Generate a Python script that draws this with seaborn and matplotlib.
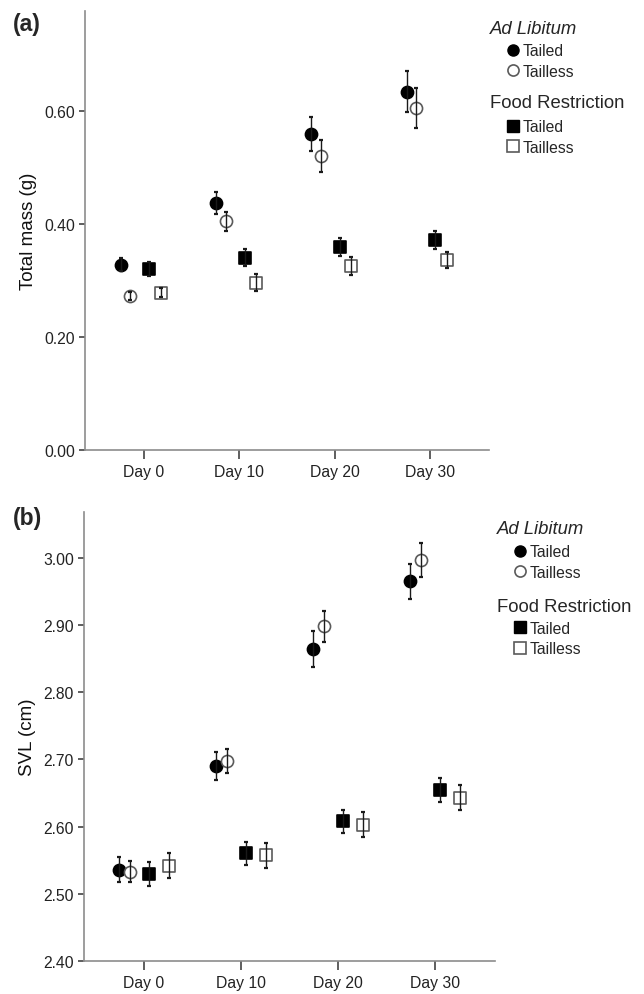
import pandas as pd
import matplotlib
matplotlib.use('Agg')
import matplotlib.pyplot as plt
from matplotlib.lines import Line2D
import seaborn as sns

days = ['Day 0', 'Day 10', 'Day 20', 'Day 30']
groups = ['AL Tailed', 'AL Tailless', 'FR Tailed', 'FR Tailless']

# (a) total mass (g), mean and error
mass_al_tailed = [0.328, 0.437, 0.559, 0.634]
mass_al_tailless = [0.272, 0.405, 0.520, 0.605]
mass_fr_tailed = [0.320, 0.340, 0.360, 0.372]
mass_fr_tailless = [0.278, 0.296, 0.325, 0.336]
mass_err_al_tailed = [0.012, 0.020, 0.030, 0.036]
mass_err_al_tailless = [0.007, 0.017, 0.028, 0.035]
mass_err_fr_tailed = [0.012, 0.015, 0.016, 0.016]
mass_err_fr_tailless = [0.008, 0.015, 0.016, 0.014]

# (b) SVL (cm), mean and error
svl_al_tailed = [2.536, 2.690, 2.864, 2.965]
svl_al_tailless = [2.533, 2.698, 2.898, 2.997]
svl_fr_tailed = [2.530, 2.560, 2.608, 2.654]
svl_fr_tailless = [2.542, 2.557, 2.603, 2.643]
svl_err_al_tailed = [0.018, 0.021, 0.027, 0.026]
svl_err_al_tailless = [0.016, 0.018, 0.023, 0.025]
svl_err_fr_tailed = [0.018, 0.017, 0.017, 0.018]
svl_err_fr_tailless = [0.018, 0.019, 0.018, 0.019]


def build(vals, errs):
    rows = []
    for g, v, e in zip(groups, vals, errs):
        for i, d in enumerate(days):
            rows.append({'day': d, 'idx': i, 'group': g, 'value': v[i], 'err': e[i]})
    return pd.DataFrame(rows)


mass_df = build([mass_al_tailed, mass_al_tailless, mass_fr_tailed, mass_fr_tailless],
                [mass_err_al_tailed, mass_err_al_tailless, mass_err_fr_tailed, mass_err_fr_tailless])
svl_df = build([svl_al_tailed, svl_al_tailless, svl_fr_tailed, svl_fr_tailless],
               [svl_err_al_tailed, svl_err_al_tailless, svl_err_fr_tailed, svl_err_fr_tailless])

sns.set_style('ticks')
plt.rcParams['font.family'] = ['Liberation Sans', 'DejaVu Sans']

OPEN = '#5a5a5a'
styles = {
    'AL Tailed': dict(marker='o', facecolor='black', edgecolor='black'),
    'AL Tailless': dict(marker='o', facecolor='white', edgecolor=OPEN),
    'FR Tailed': dict(marker='s', facecolor='black', edgecolor='black'),
    'FR Tailless': dict(marker='s', facecolor='white', edgecolor=OPEN),
}

W, H = 644, 995
fig = plt.figure(figsize=(W / 100, H / 100), dpi=100)


def fx(px):
    return px / W


def fy(py):
    return 1 - py / H


def panel(rect, df, offsets, ylim, yticks, ylabel, tag, tag_y, leg_x, leg_rows):
    ax = fig.add_axes(rect)
    for g, off in zip(groups, offsets):
        sub = df[df.group == g].copy()
        sub['x'] = sub['idx'] + off
        st = styles[g]
        sns.scatterplot(data=sub, x='x', y='value', marker=st['marker'], s=76,
                        color=st['facecolor'], edgecolor=st['edgecolor'],
                        linewidth=1.2, ax=ax, zorder=2, legend=False)
        ax.errorbar(sub['x'], sub['value'], yerr=sub['err'], fmt='none',
                    ecolor='#1a1a1a', elinewidth=1.0, capsize=1.2, capthick=1.6,
                    zorder=3)
    ax.set_xlim(-0.62, 3.62)
    ax.set_ylim(*ylim)
    ax.set_xticks(range(len(days)))
    ax.set_xticklabels(days)
    ax.set_yticks(yticks)
    ax.set_yticklabels([f'{t:.2f}' for t in yticks])
    ax.set_xlabel('')
    ax.set_ylabel(ylabel, fontsize=13.5, color='#111', labelpad=5)
    for s in ['top', 'right']:
        ax.spines[s].set_visible(False)
    for s in ['left', 'bottom']:
        ax.spines[s].set_color('#8c8c8c')
        ax.spines[s].set_linewidth(1.2)
    ax.tick_params(axis='y', length=4.3, width=1.1, color='#333', pad=3,
                   labelsize=11.3, labelcolor='#222')
    ax.tick_params(axis='x', length=6.5, width=1.1, color='#333', pad=3.5,
                   labelsize=11.3, labelcolor='#222')

    fig.text(fx(13), fy(tag_y), tag, fontsize=16.5, fontweight='bold',
             ha='left', va='center')

    hx, y1, y2, y3, y4, y5, y6 = leg_rows
    fig.text(fx(hx), fy(y1), 'Ad Libitum', fontsize=13.3, style='italic',
             ha='left', va='center')
    fig.text(fx(hx), fy(y4), 'Food Restriction', fontsize=13.3,
             ha='left', va='center')
    h_al = [Line2D([], [], ls='', marker='o', markersize=8, mfc='black', mec='black'),
            Line2D([], [], ls='', marker='o', markersize=8, mfc='white', mec=OPEN, mew=1.2)]
    h_fr = [Line2D([], [], ls='', marker='s', markersize=8, mfc='black', mec='black'),
            Line2D([], [], ls='', marker='s', markersize=8, mfc='white', mec=OPEN, mew=1.2)]
    common = dict(loc='center left', bbox_transform=fig.transFigure, frameon=False,
                  borderpad=0, borderaxespad=0, handlelength=0.6, handletextpad=0.35,
                  labelspacing=0.38, fontsize=11.3)
    leg1 = ax.legend(h_al, ['Tailed', 'Tailless'],
                     bbox_to_anchor=(fx(leg_x), fy((y2 + y3) / 2)), **common)
    ax.add_artist(leg1)
    ax.legend(h_fr, ['Tailed', 'Tailless'],
              bbox_to_anchor=(fx(leg_x), fy((y5 + y6) / 2)), **common)
    return ax


panel([fx(85), fy(451), fx(489 - 85), (451 - 12) / H], mass_df,
      [-0.245, -0.145, 0.055, 0.175], (0, 0.777), [0.0, 0.2, 0.4, 0.6],
      'Total mass (g)', '(a)', 25, 508,
      (490, 29, 52, 72, 104, 128, 148))

panel([fx(84), fy(962), fx(495 - 84), (962 - 513) / H], svl_df,
      [-0.254, -0.148, 0.053, 0.255], (2.40, 3.068),
      [2.4, 2.5, 2.6, 2.7, 2.8, 2.9, 3.0],
      'SVL (cm)', '(b)', 518, 515,
      (497, 530, 552, 574, 607, 628, 651))

fig.savefig('out.png', dpi=100)
